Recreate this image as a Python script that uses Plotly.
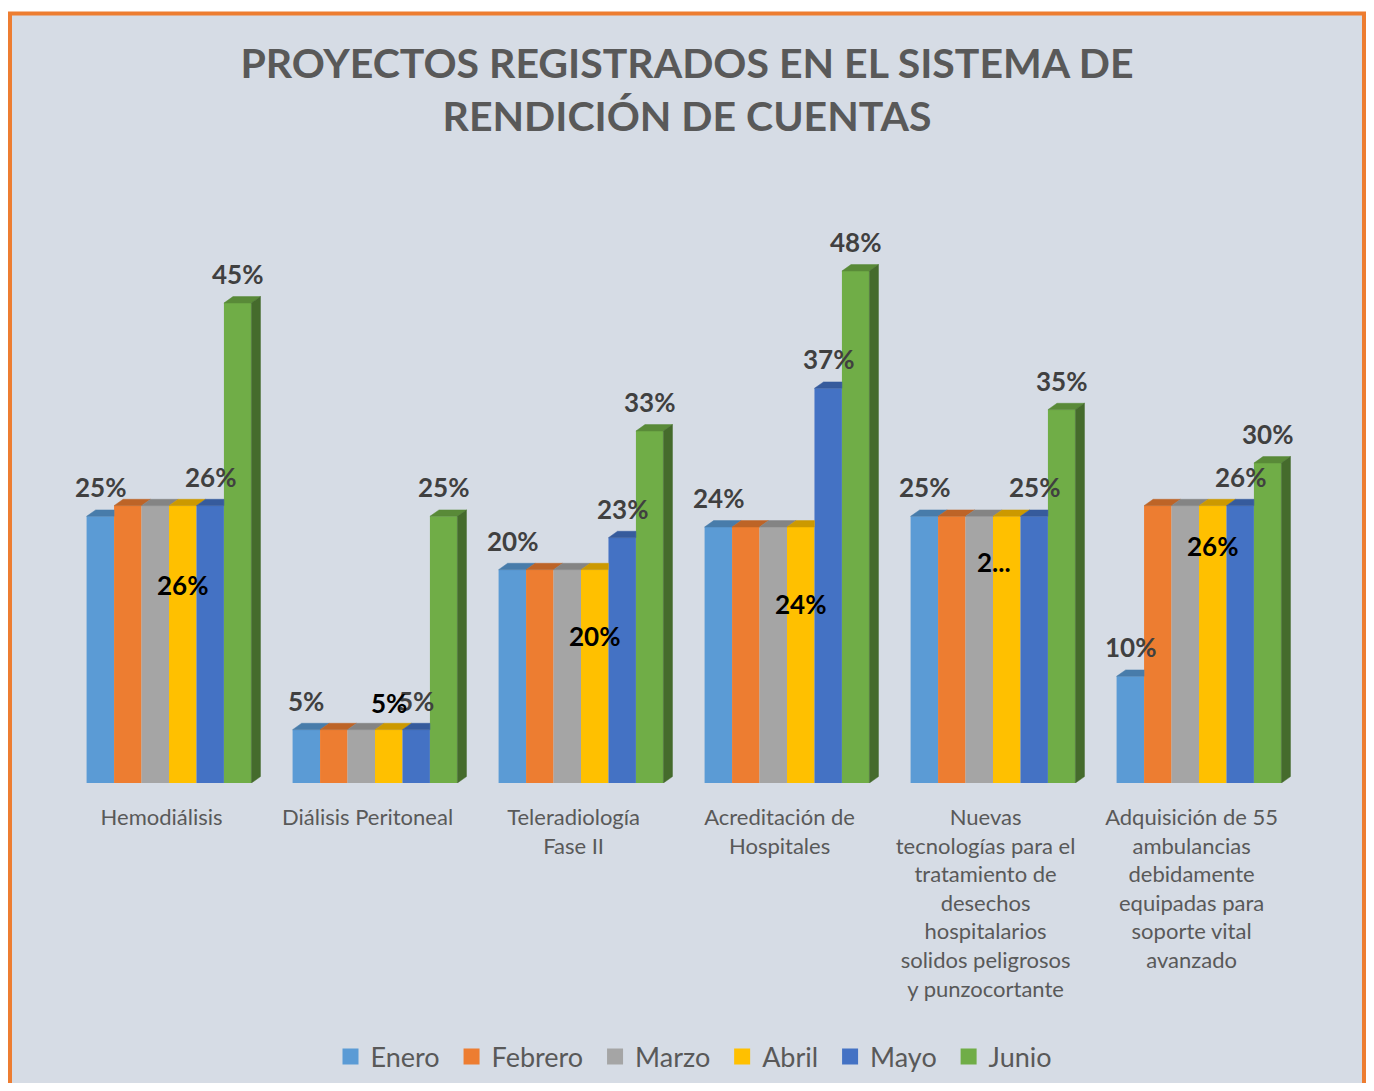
import plotly.graph_objects as go

# ---------------- data ----------------
CATEGORIES = [
    "Hemodiálisis",
    "Diálisis Peritoneal",
    "Teleradiología<br>Fase II",
    "Acreditación de<br>Hospitales",
    "Nuevas<br>tecnologías para el<br>tratamiento de<br>desechos<br>hospitalarios<br>solidos peligrosos<br>y punzocortante",
    "Adquisición de 55<br>ambulancias<br>debidamente<br>equipadas para<br>soporte vital<br>avanzado",
]
MONTHS = ["Enero", "Febrero", "Marzo", "Abril", "Mayo", "Junio"]
ENERO = [25, 5, 20, 24, 25, 10]
FEBRERO = [26, 5, 20, 24, 25, 26]
MARZO = [26, 5, 20, 24, 25, 26]
ABRIL = [26, 5, 20, 24, 25, 26]
MAYO = [26, 5, 23, 37, 25, 26]
JUNIO = [45, 25, 33, 48, 35, 30]
ABRIL_LABELS = ["26%", "5%", "20%", "24%", "2...", "26%"]

SERIES = [ENERO, FEBRERO, MARZO, ABRIL, MAYO, JUNIO]

# ---------------- style ----------------
COLORS = ["#5B9BD5", "#ED7D31", "#A5A5A5", "#FFC000", "#4472C4", "#70AD47"]
BG = "#D6DCE5"
FONT = "Lato"
W = 0.8 / 6          # bar width in category units
DX = 0.044           # 3D depth (x, category units)
DY = 0.6             # 3D depth (y, percent units)
ABRIL_LABEL_Y = [18.6, 7.5, 13.8, 16.8, 20.7, 22.2]   # label placement (percent units)
ABRIL_LABEL_XSHIFT = [0, 0, 0, 0, -13, 0]
LEGEND_PAD = "\u00a0"


def shade(hex_color, f):
    h = hex_color.lstrip("#")
    r, g, b = (int(h[k:k + 2], 16) for k in (0, 2, 4))
    return "#%02x%02x%02x" % (int(r * f), int(g * f), int(b * f))


fig = go.Figure()
n = len(CATEGORIES)
xs_cat = list(range(n))

# front faces
for j, (name, vals, col) in enumerate(zip(MONTHS, SERIES, COLORS)):
    fig.add_trace(go.Bar(
        x=xs_cat, y=vals, name=name, width=W, offset=-0.4 + j * W,
        marker=dict(color=col, line=dict(width=0)),
        hoverinfo="skip", showlegend=False,
    ))

# top faces (and side face of last series)
for j, (vals, col) in enumerate(zip(SERIES, COLORS)):
    px, py = [], []
    for i in range(n):
        x0 = i - 0.4 + j * W
        x1 = x0 + W
        v = vals[i]
        nxt = SERIES[j + 1][i] if j < len(SERIES) - 1 else None
        if nxt is not None and nxt > v:
            pts = [(x0, v), (x1, v), (x1, v + DY), (x0 + DX, v + DY)]
        else:
            pts = [(x0, v), (x1, v), (x1 + DX, v + DY), (x0 + DX, v + DY)]
        pts.append(pts[0])
        px += [p[0] for p in pts] + [None]
        py += [p[1] for p in pts] + [None]
    tc = shade(col, 0.8)
    fig.add_trace(go.Scatter(x=px, y=py, mode="lines", fill="toself", fillcolor=tc,
                             line=dict(color=tc, width=0.5), showlegend=False, hoverinfo="skip"))
    if j == len(SERIES) - 1:
        sx, sy = [], []
        for i in range(n):
            x1 = i - 0.4 + (j + 1) * W
            v = vals[i]
            pts = [(x1, 0), (x1, v), (x1 + DX, v + DY), (x1 + DX, DY), (x1, 0)]
            sx += [p[0] for p in pts] + [None]
            sy += [p[1] for p in pts] + [None]
        sc = shade(col, 0.62)
        fig.add_trace(go.Scatter(x=sx, y=sy, mode="lines", fill="toself", fillcolor=sc,
                                 line=dict(color=sc, width=0.5), showlegend=False, hoverinfo="skip"))

# legend entries (square swatches)
for name, col in zip(MONTHS, COLORS):
    fig.add_trace(go.Scatter(x=[None], y=[None], mode="markers", name=name + LEGEND_PAD,
                             marker=dict(symbol="square", size=16, color=col)))

# data labels
annotations = []
for j in (0, 4, 5):
    for i, v in enumerate(SERIES[j]):
        annotations.append(dict(
            x=i - 0.4 + (j + 0.5) * W, y=v, xref="x", yref="y", text=f"{v}%",
            showarrow=False, yshift=29, yanchor="middle",
            font=dict(family=FONT, size=26, color="#404040", weight="bold"),
        ))
for i, t in enumerate(ABRIL_LABELS):
    annotations.append(dict(
        x=i - 0.4 + 3.5 * W, y=ABRIL_LABEL_Y[i], xref="x", yref="y", text=t,
        showarrow=False, yanchor="middle", xshift=ABRIL_LABEL_XSHIFT[i],
        font=dict(family=FONT, size=26, color="#000000", weight="bold"),
    ))

# layout geometry (page is offset by the 8px body margin; figure fits inside the page)
O = 8
FW, FH = 1374 - 2 * O, 1091 - 2 * O
L, T = 66 - O, 143 - O
BASE = 783 - O
B = FH - BASE
R = FW - (1302 - O)
PW, PH = FW - L - R, FH - T - B


def pxx(p):
    return (p - O - L) / PW


def pxy(p):
    return (BASE - (p - O)) / PH


fig.add_shape(type="rect", xref="paper", yref="paper",
              x0=pxx(10), x1=pxx(1364), y0=pxy(1110), y1=pxy(13.5),
              fillcolor=BG, line=dict(color="#ED7D31", width=4), layer="below")

fig.update_layout(
    width=FW, height=FH,
    margin=dict(l=L, r=R, t=T, b=B, autoexpand=False),
    paper_bgcolor="white", plot_bgcolor="rgba(0,0,0,0)",
    barmode="overlay",
    title=dict(text="<b>PROYECTOS REGISTRADOS EN EL SISTEMA DE<br>RENDICIÓN DE CUENTAS</b>",
               x=0.5, xanchor="center", y=1 - 70 / FH, yanchor="middle",
               font=dict(family=FONT, size=41, color="#595959")),
    xaxis=dict(range=[-0.5, n - 0.5], tickvals=[i - 0.036 for i in xs_cat], ticktext=CATEGORIES,
               showgrid=False, zeroline=False, showline=False, ticks="",
               tickfont=dict(family=FONT, size=22, color="#595959"), ticklabelstandoff=19),
    yaxis=dict(range=[0, 60], visible=False),
    legend=dict(orientation="h", x=pxx(697), xanchor="center",
                yref="container", y=1 - (1057 - O) / FH, yanchor="middle",
                font=dict(family=FONT, size=27, color="#595959"), bgcolor="rgba(0,0,0,0)"),
    annotations=annotations,
    showlegend=True,
)

fig.write_html("out.html")
